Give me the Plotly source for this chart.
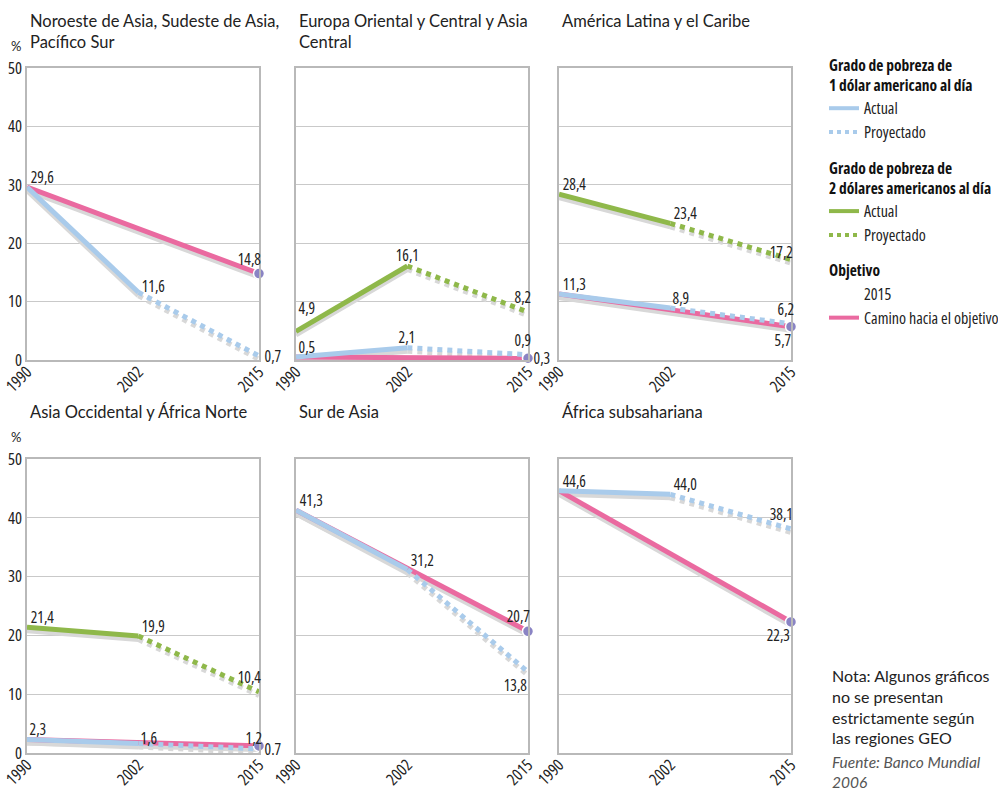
import plotly.graph_objects as go

# ---------------- data ----------------
years_actual = [1990, 2002]
years_proj = [2002, 2015]
years_target = [1990, 2015]
x_ticks = [1990, 2002, 2015]
y_ticks = [0, 10, 20, 30, 40, 50]

regions = [
    "Noroeste de Asia, Sudeste de Asia,<br>Pacífico Sur",
    "Europa Oriental y Central y Asia<br>Central",
    "América Latina y el Caribe",
    "Asia Occidental y África Norte",
    "Sur de Asia",
    "África subsahariana",
]

usd1_actual = [[29.6, 11.6], [0.5, 2.1], [11.3, 8.9], [2.3, 1.6], [41.3, 31.2], [44.6, 44.0]]
usd1_proj = [[11.6, 0.7], [2.1, 0.9], [8.9, 6.2], [1.6, 0.7], [31.2, 13.8], [44.0, 38.1]]
usd2_actual = [None, [4.9, 16.1], [28.4, 23.4], [21.4, 19.9], None, None]
usd2_proj = [None, [16.1, 8.2], [23.4, 17.2], [19.9, 10.4], None, None]
target = [[29.6, 14.8], [0.5, 0.3], [11.3, 5.7], [2.3, 1.2], [41.3, 20.7], [44.6, 22.3]]

# ---------------- style ----------------
BLUE = "#a9cbeb"
GREEN = "#8fb84a"
PINK = "#ea6aa0"
PURPLE = "#8a84c4"
SHADOW = "#d8d8d8"
GRID = "#c9c9c9"
COND = "Open Sans"
SANS = "Lato, Noto Sans, sans-serif"
LW = 5


def cfont(size, color="#222", weight="normal"):
    return dict(family=COND, size=size, color=color, weight=weight)


W, H = 998, 788
ML, MR, MT, MB = 27, 207, 68, 35
PW = W - ML - MR
PH = H - MT - MB


def px_x(p):
    return (p - ML) / PW


def px_y(p):
    return (H - MB - p) / PH


col_px = [(27, 259), (296, 528), (559, 791)]
row_px = [(68, 360), (459, 753)]

fig = go.Figure()
layout = dict(
    width=W, height=H,
    margin=dict(l=ML, r=MR, t=MT, b=MB, autoexpand=False),
    paper_bgcolor="white", plot_bgcolor="white",
    showlegend=True,
)

annotations = []

for i in range(6):
    r, c = divmod(i, 3)
    n = i + 1
    xd = [px_x(col_px[c][0]), px_x(col_px[c][1])]
    yd = [px_y(row_px[r][1]), px_y(row_px[r][0])]
    xa = "xaxis" if n == 1 else f"xaxis{n}"
    ya = "yaxis" if n == 1 else f"yaxis{n}"
    yo = f"yaxis{n + 6}"
    layout[xa] = dict(
        domain=xd, anchor=f"y{'' if n == 1 else n}", range=[1990, 2015],
        tickvals=x_ticks, tickangle=-45, ticks="", ticklen=0, automargin=False,
        ticklabeloverflow="allow", ticklabelstandoff=-6,
        tickfont=cfont(16.5),
        showgrid=False, zeroline=False,
        showline=True, linecolor="#b9b9b9", linewidth=2, mirror=True,
    )
    # base axis hosts shadows (shifted range => lines appear a few px lower)
    layout[ya] = dict(
        domain=yd, anchor=f"x{'' if n == 1 else n}", range=[0.6, 50.6], automargin=False,
        showgrid=False, zeroline=False, showticklabels=False, showline=False,
    )
    layout[yo] = dict(
        overlaying=f"y{'' if n == 1 else n}", anchor=f"x{'' if n == 1 else n}",
        range=[0, 50], tickvals=y_ticks, ticks="", ticklen=2, automargin=False,
        ticklabeloverflow="allow",
        showticklabels=(c == 0),
        tickfont=cfont(16.5),
        showgrid=True, gridcolor=GRID, gridwidth=1.3, zeroline=False,
        showline=True, linecolor="#b9b9b9", linewidth=1.5, mirror=True,
    )
    xref = f"x{'' if n == 1 else n}"
    yref_base = f"y{'' if n == 1 else n}"
    yref_main = f"y{n + 6}"

    series = [(years_target, target[i], PINK, "solid"),
              (years_actual, usd1_actual[i], BLUE, "solid"),
              (years_proj, usd1_proj[i], BLUE, "dot")]
    if usd2_actual[i] is not None:
        series.append((years_actual, usd2_actual[i], GREEN, "solid"))
        series.append((years_proj, usd2_proj[i], GREEN, "dot"))

    # shadows
    for xs, ys, col, dash in series:
        fig.add_trace(go.Scatter(x=xs, y=ys, mode="lines", xaxis=xref, yaxis=yref_base,
                                 line=dict(color=SHADOW, width=LW, dash=dash),
                                 showlegend=False, hoverinfo="skip"))
    for xs, ys, col, dash in series:
        fig.add_trace(go.Scatter(x=xs, y=ys, mode="lines", xaxis=xref, yaxis=yref_main,
                                 line=dict(color=col, width=LW, dash=dash),
                                 showlegend=False, hoverinfo="skip", cliponaxis=True))
    fig.add_trace(go.Scatter(x=[years_target[1]], y=[target[i][1]], mode="markers",
                             xaxis=xref, yaxis=yref_main, cliponaxis=False,
                             marker=dict(color=PURPLE, size=11, line=dict(color="white", width=1.5)),
                             showlegend=False, hoverinfo="skip"))

    # panel title
    annotations.append(dict(
        xref="paper", yref="paper", x=px_x(col_px[c][0] + 1), y=px_y(row_px[r][0] - 59),
        xanchor="left", yanchor="top", align="left", showarrow=False,
        text=regions[i], font=dict(family=SANS, size=16.5, color="#222"),
    ))

# "%" labels
for r in range(2):
    annotations.append(dict(xref="paper", yref="paper", x=px_x(16), y=px_y(row_px[r][0] - 22),
                            xanchor="center", yanchor="middle", showarrow=False, text="%",
                            font=dict(family=SANS, size=13, color="#222")))

# ---------------- value labels ----------------
# placement codes: ar = above right, arh = above right (higher), ac = above centre,
# al = above left, r = right, bl = below left
place = {
    (0, "a0"): "ar", (0, "a1"): "arl", (0, "p1"): "r", (0, "t1"): "al",
    (1, "a0"): "ar", (1, "a1"): "ac", (1, "p1"): "al", (1, "t1"): "r",
    (1, "g0"): "arh", (1, "g1"): "ac", (1, "gp1"): "al",
    (2, "a0"): "ar", (2, "a1"): "ar", (2, "p1"): "al", (2, "t1"): "bl",
    (2, "g0"): "ar", (2, "g1"): "ar", (2, "gp1"): "all",
    (3, "a0"): "ar", (3, "a1"): "arl", (3, "p1"): "r", (3, "t1"): "all",
    (3, "g0"): "ar", (3, "g1"): "ar", (3, "gp1"): "al",
    (4, "a0"): "ar", (4, "a1"): "ar", (4, "p1"): "bl", (4, "t1"): "al",
    (5, "a0"): "ar", (5, "a1"): "ar", (5, "p1"): "al", (5, "t1"): "bl",
}
style = {
    "ar": dict(xanchor="left", yanchor="middle", xshift=-2, yshift=10),
    "arl": dict(xanchor="left", yanchor="middle", xshift=-2, yshift=6),
    "arh": dict(xanchor="left", yanchor="middle", xshift=-2, yshift=23),
    "ac": dict(xanchor="center", yanchor="middle", xshift=0, yshift=11),
    "al": dict(xanchor="right", yanchor="middle", xshift=8, yshift=15),
    "all": dict(xanchor="right", yanchor="middle", xshift=8, yshift=8),
    "r": dict(xanchor="left", yanchor="middle", xshift=1, yshift=0),
    "bl": dict(xanchor="right", yanchor="middle", xshift=5, yshift=-13),
}


def fmt(v, sep=","):
    return f"{v:.1f}".replace(".", sep)


for i in range(6):
    n = i + 1
    xref = f"x{'' if n == 1 else n}"
    yref = f"y{n + 6}"
    pts = {
        "a0": (years_actual[0], usd1_actual[i][0]),
        "a1": (years_actual[1], usd1_actual[i][1]),
        "p1": (years_proj[1], usd1_proj[i][1]),
        "t1": (years_target[1], target[i][1]),
    }
    if usd2_actual[i] is not None:
        pts["g0"] = (years_actual[0], usd2_actual[i][0])
        pts["g1"] = (years_actual[1], usd2_actual[i][1])
        pts["gp1"] = (years_proj[1], usd2_proj[i][1])
    for key, (xv, yv) in pts.items():
        st = style[place[(i, key)]]
        sep = "." if (i == 3 and key == "p1") else ","
        annotations.append(dict(xref=xref, yref=yref, x=xv, y=yv, text=fmt(yv, sep),
                                showarrow=False, font=cfont(15.5), **st))

# ---------------- legend ----------------
leg = [
    ("g1", "<b>Grado de pobreza de<br>1 dólar americano al día</b>", "Actual", BLUE, "solid"),
    ("g1", None, "Proyectado", BLUE, "dot"),
    ("g2", "<b>Grado de pobreza de<br>2 dólares americanos al día</b>", "Actual", GREEN, "solid"),
    ("g2", None, "Proyectado", GREEN, "dot"),
]
for grp, title, name, col, dash in leg:
    fig.add_trace(go.Scatter(x=[None], y=[None], mode="lines", name=name, legendgroup=grp,
                             legendgrouptitle=dict(text=title) if title else None,
                             line=dict(color=col, width=4, dash=dash), xaxis="x", yaxis="y7"))
fig.add_trace(go.Scatter(x=[None], y=[None], mode="markers", name="2015", legendgroup="g3",
                         legendgrouptitle=dict(text="<b>Objetivo</b>"),
                         marker=dict(color="rgba(0,0,0,0)", size=10), xaxis="x", yaxis="y7"))
fig.add_trace(go.Scatter(x=[None], y=[None], mode="lines", name="Camino hacia el objetivo",
                         legendgroup="g3", line=dict(color=PINK, width=4), xaxis="x", yaxis="y7"))

layout["legend"] = dict(
    x=px_x(824), y=px_y(48), xanchor="left", yanchor="top",
    font=cfont(16),
    grouptitlefont=cfont(15.5, "#111"),
    tracegroupgap=12, itemwidth=30, bgcolor="rgba(0,0,0,0)", traceorder="grouped",
)

# notes
annotations.append(dict(xref="paper", yref="paper", x=px_x(830), y=px_y(664), xanchor="left",
                        yanchor="top", align="left", showarrow=False,
                        text="Nota: Algunos gráficos<br>no se presentan<br>estrictamente según<br>las regiones GEO",
                        font=dict(family=SANS, size=16, color="#222")))
annotations.append(dict(xref="paper", yref="paper", x=px_x(830), y=px_y(751), xanchor="left",
                        yanchor="top", align="left", showarrow=False,
                        text="<i>Fuente: Banco Mundial<br>2006</i>",
                        font=dict(family=SANS, size=15.5, color="#555")))

layout["annotations"] = annotations
fig.update_layout(**layout)

# page: no body margin so the figure sits at the window origin; condensed width for Open Sans texts
post = """
document.body.style.margin = '0';
var gd = document.getElementsByClassName('plotly-graph-div')[0];
function cond() {
  gd.querySelectorAll('text').forEach(function (t) {
    if ((t.style.fontFamily || '').indexOf('Open Sans') >= 0) { t.style.fontStretch = '75%'; }
  });
}
cond();
gd.on('plotly_afterplot', cond);
"""
fig.write_html("out.html", post_script=post, config={"displayModeBar": False})
